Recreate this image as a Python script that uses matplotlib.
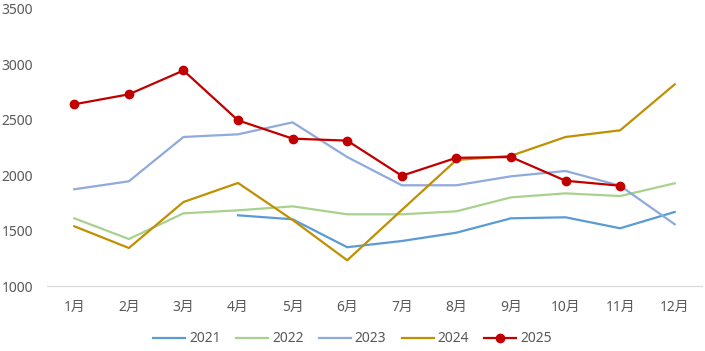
import matplotlib
matplotlib.use("Agg")
import matplotlib.pyplot as plt
import numpy as np

plt.rcParams['font.family'] = ['Noto Sans', 'Noto Sans CJK SC', 'DejaVu Sans']

months = ['1月', '2月', '3月', '4月', '5月', '6月', '7月', '8月', '9月', '10月', '11月', '12月']
s2021 = [None, None, None, 1638, 1602, 1350, 1406, 1481, 1611, 1620, 1521, 1668]
s2022 = [1611, 1424, 1656, 1683, 1719, 1647, 1647, 1674, 1800, 1836, 1812, 1927]
s2023 = [1873, 1945, 2345, 2369, 2477, 2164, 1909, 1909, 1990, 2038, 1905, 1557]
s2024 = [1539, 1343, 1758, 1930, 1596, 1232, 1686, 2137, 2175, 2345, 2405, 2820]
s2025 = [2640, 2730, 2945, 2495, 2330, 2312, 1995, 2157, 2164, 1950, 1905, None]

series = [('2021', s2021, '#5B9BD5'), ('2022', s2022, '#A9D18E'),
          ('2023', s2023, '#8FAADC'), ('2024', s2024, '#BF9000')]

fig = plt.figure(figsize=(7.05, 3.51), dpi=100)
ax = fig.add_axes([47/705, 1-286/351, 655/705, 277/351])
x = np.arange(len(months))

def arr(v):
    return np.array([np.nan if a is None else a for a in v], dtype=float)

for name, vals, col in series:
    ax.plot(x, arr(vals), color=col, lw=1.6, label=name)
ax.plot(x, arr(s2025), color='#C00000', lw=1.6, marker='o', ms=6, label='2025')

ax.set_xlim(-0.5, 11.5)
ax.set_ylim(1000, 3500)
ax.set_yticks([1000, 1500, 2000, 2500, 3000, 3500])
ax.set_xticks(x)
ax.set_xticklabels(months)
for s in ['top', 'right', 'left']:
    ax.spines[s].set_visible(False)
ax.spines['bottom'].set_color('#D9D9D9')
ax.tick_params(axis='both', length=0, colors='#595959', labelsize=10)
ax.tick_params(axis='y', pad=10)
ax.tick_params(axis='x', pad=10)

fig.legend(loc='center', bbox_to_anchor=(0.5, 1-339/351), ncol=5, frameon=False,
           fontsize=10, labelcolor='#595959', handlelength=2.3, columnspacing=1.1,
           handletextpad=0.3)

fig.savefig('out.png', dpi=100)
